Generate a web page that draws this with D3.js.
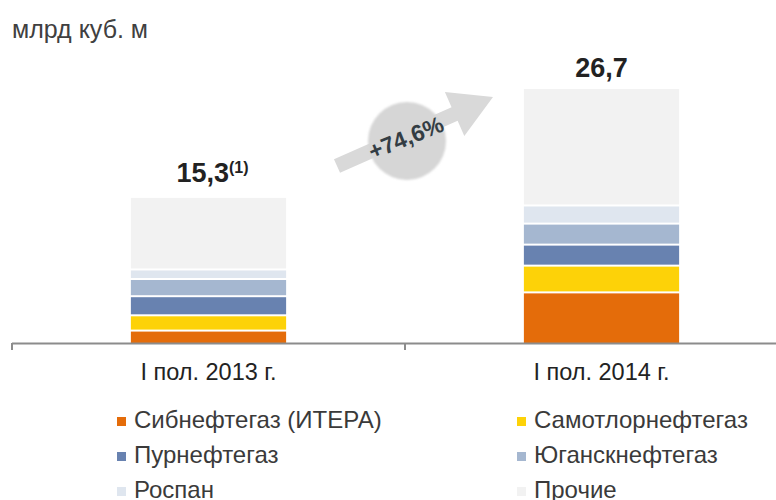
<!DOCTYPE html>
<html>
<head>
<meta charset="utf-8">
<script src="https://cdn.jsdelivr.net/npm/d3@7"></script>
<style>
  body { margin: 0; background: #fff; }
  text { font-family: "Liberation Sans", Arial, sans-serif; }
</style>
</head>
<body>
<div id="chart"></div>
<script>
let periods = ['I пол. 2013 г.', 'I пол. 2014 г.']
let totals = ['15,3', '26,7']
let footnotes = ['(1)', '']
let companies = ['Сибнефтегаз (ИТЕРА)', 'Самотлорнефтегаз', 'Пурнефтегаз', 'Юганскнефтегаз', 'Роспан', 'Прочие']
let colors = ['#e46c0a', '#fdd208', '#6882b0', '#a5b7d0', '#dfe6ef', '#f2f2f2']
// млрд куб. м, by company, per period
let values2013 = [1.3, 1.6, 2.0, 1.8, 1.0, 7.6]
let values2014 = [5.3, 2.8, 2.2, 2.2, 1.9, 12.3]
let growth = '+74,6%'

let width = 776
let height = 500

let svg = d3.select('#chart')
  .append('svg')
  .attr('width', width)
  .attr('height', height)

let x = d3.scaleBand()
  .domain(periods)
  .range([12, 798])
  .paddingInner(0.605)
  .paddingOuter(0.3025)

let y = d3.scaleLinear()
  .domain([0, 26.7])
  .range([343, 88])

let series = [values2013, values2014]

// stacked bars
series.forEach((vals, i) => {
  let cum = 0
  let segs = vals.map((v, j) => {
    let s = { y0: cum, y1: cum + v, color: colors[j], idx: j }
    cum += v
    return s
  })
  svg.append('g')
    .selectAll('rect')
    .data(segs)
    .enter()
    .append('rect')
    .attr('x', x(periods[i]))
    .attr('width', x.bandwidth())
    .attr('y', d => y(d.y1) + 1)
    .attr('height', d => y(d.y0) - y(d.y1) - (d.idx === 0 ? 1 : 2))
    .attr('fill', d => d.color)

  // total label
  let lift = footnotes[i] ? 15 : 11
  let t = svg.append('text')
    .attr('x', x(periods[i]) + x.bandwidth() / 2 + (footnotes[i] ? 4 : 0))
    .attr('y', y(cum) - lift)
    .attr('text-anchor', 'middle')
    .attr('font-size', 27)
    .attr('font-weight', 'bold')
    .attr('fill', '#222')
  t.append('tspan').text(totals[i])
  if (footnotes[i]) {
    t.append('tspan')
      .attr('font-size', 16)
      .attr('dy', -9)
      .text(footnotes[i])
  }
})

// axis
let step = x.step()
let axis = svg.append('g').attr('class', 'axis')
axis.append('line')
  .attr('x1', 12).attr('x2', width)
  .attr('y1', 343.5).attr('y2', 343.5)
  .attr('stroke', '#8c8c8c')
  .attr('stroke-width', 2)
let bounds = periods.map(p => x(p) + x.bandwidth() / 2 - step / 2)
axis.selectAll('.tick')
  .data(bounds)
  .enter()
  .append('line')
  .attr('class', 'tick')
  .attr('x1', d => d).attr('x2', d => d)
  .attr('y1', 343).attr('y2', 350)
  .attr('stroke', '#8c8c8c')
  .attr('stroke-width', 2)
axis.selectAll('.label')
  .data(periods)
  .enter()
  .append('text')
  .attr('class', 'label')
  .attr('x', d => x(d) + x.bandwidth() / 2)
  .attr('y', 380)
  .attr('text-anchor', 'middle')
  .attr('font-size', 23.5)
  .attr('fill', '#222')
  .text(d => d)

// unit title
svg.append('text')
  .attr('x', 12)
  .attr('y', 38)
  .attr('font-size', 25)
  .attr('fill', '#404040')
  .text('млрд куб. м')

// growth arrow with circle
let defs = svg.append('defs')
defs.append('filter')
  .attr('id', 'soft')
  .append('feGaussianBlur')
  .attr('stdDeviation', 1.2)

let x0 = 337, y0 = 166, x1 = 493, y1 = 97
let ang = Math.atan2(y1 - y0, x1 - x0) * 180 / Math.PI
let len = Math.hypot(x1 - x0, y1 - y0)
let headLen = 42, headW = 24, shaftW = 7.5
let arrow = svg.append('g')
  .attr('transform', `translate(${x0},${y0}) rotate(${ang})`)
arrow.append('path')
  .attr('d', `M0,${-shaftW} L${len - headLen},${-shaftW} L${len - headLen},${-headW} L${len},0 L${len - headLen},${headW} L${len - headLen},${shaftW} L0,${shaftW} Z`)
  .attr('fill', '#d9d9d9')

svg.append('circle')
  .attr('cx', 407)
  .attr('cy', 141)
  .attr('r', 39)
  .attr('fill', '#d6d6d6')
  .attr('filter', 'url(#soft)')

svg.append('text')
  .attr('transform', `translate(409,145) rotate(-22)`)
  .attr('text-anchor', 'middle')
  .attr('font-size', 23)
  .attr('font-weight', 'bold')
  .attr('fill', '#333d44')
  .text(growth)

// legend
let legend = svg.append('g')
  .selectAll('.legend')
  .data(companies)
  .enter()
  .append('g')
  .attr('class', 'legend')
  .attr('transform', (d, i) => `translate(${i % 2 === 0 ? 117 : 517},${428 + Math.floor(i / 2) * 35})`)

legend.append('rect')
  .attr('x', 0)
  .attr('y', -11)
  .attr('width', 9)
  .attr('height', 9)
  .attr('fill', (d, i) => colors[i])

legend.append('text')
  .attr('x', 17)
  .attr('y', 0)
  .attr('font-size', 24)
  .attr('fill', '#3a3a3a')
  .text(d => d)
</script>
</body>
</html>
